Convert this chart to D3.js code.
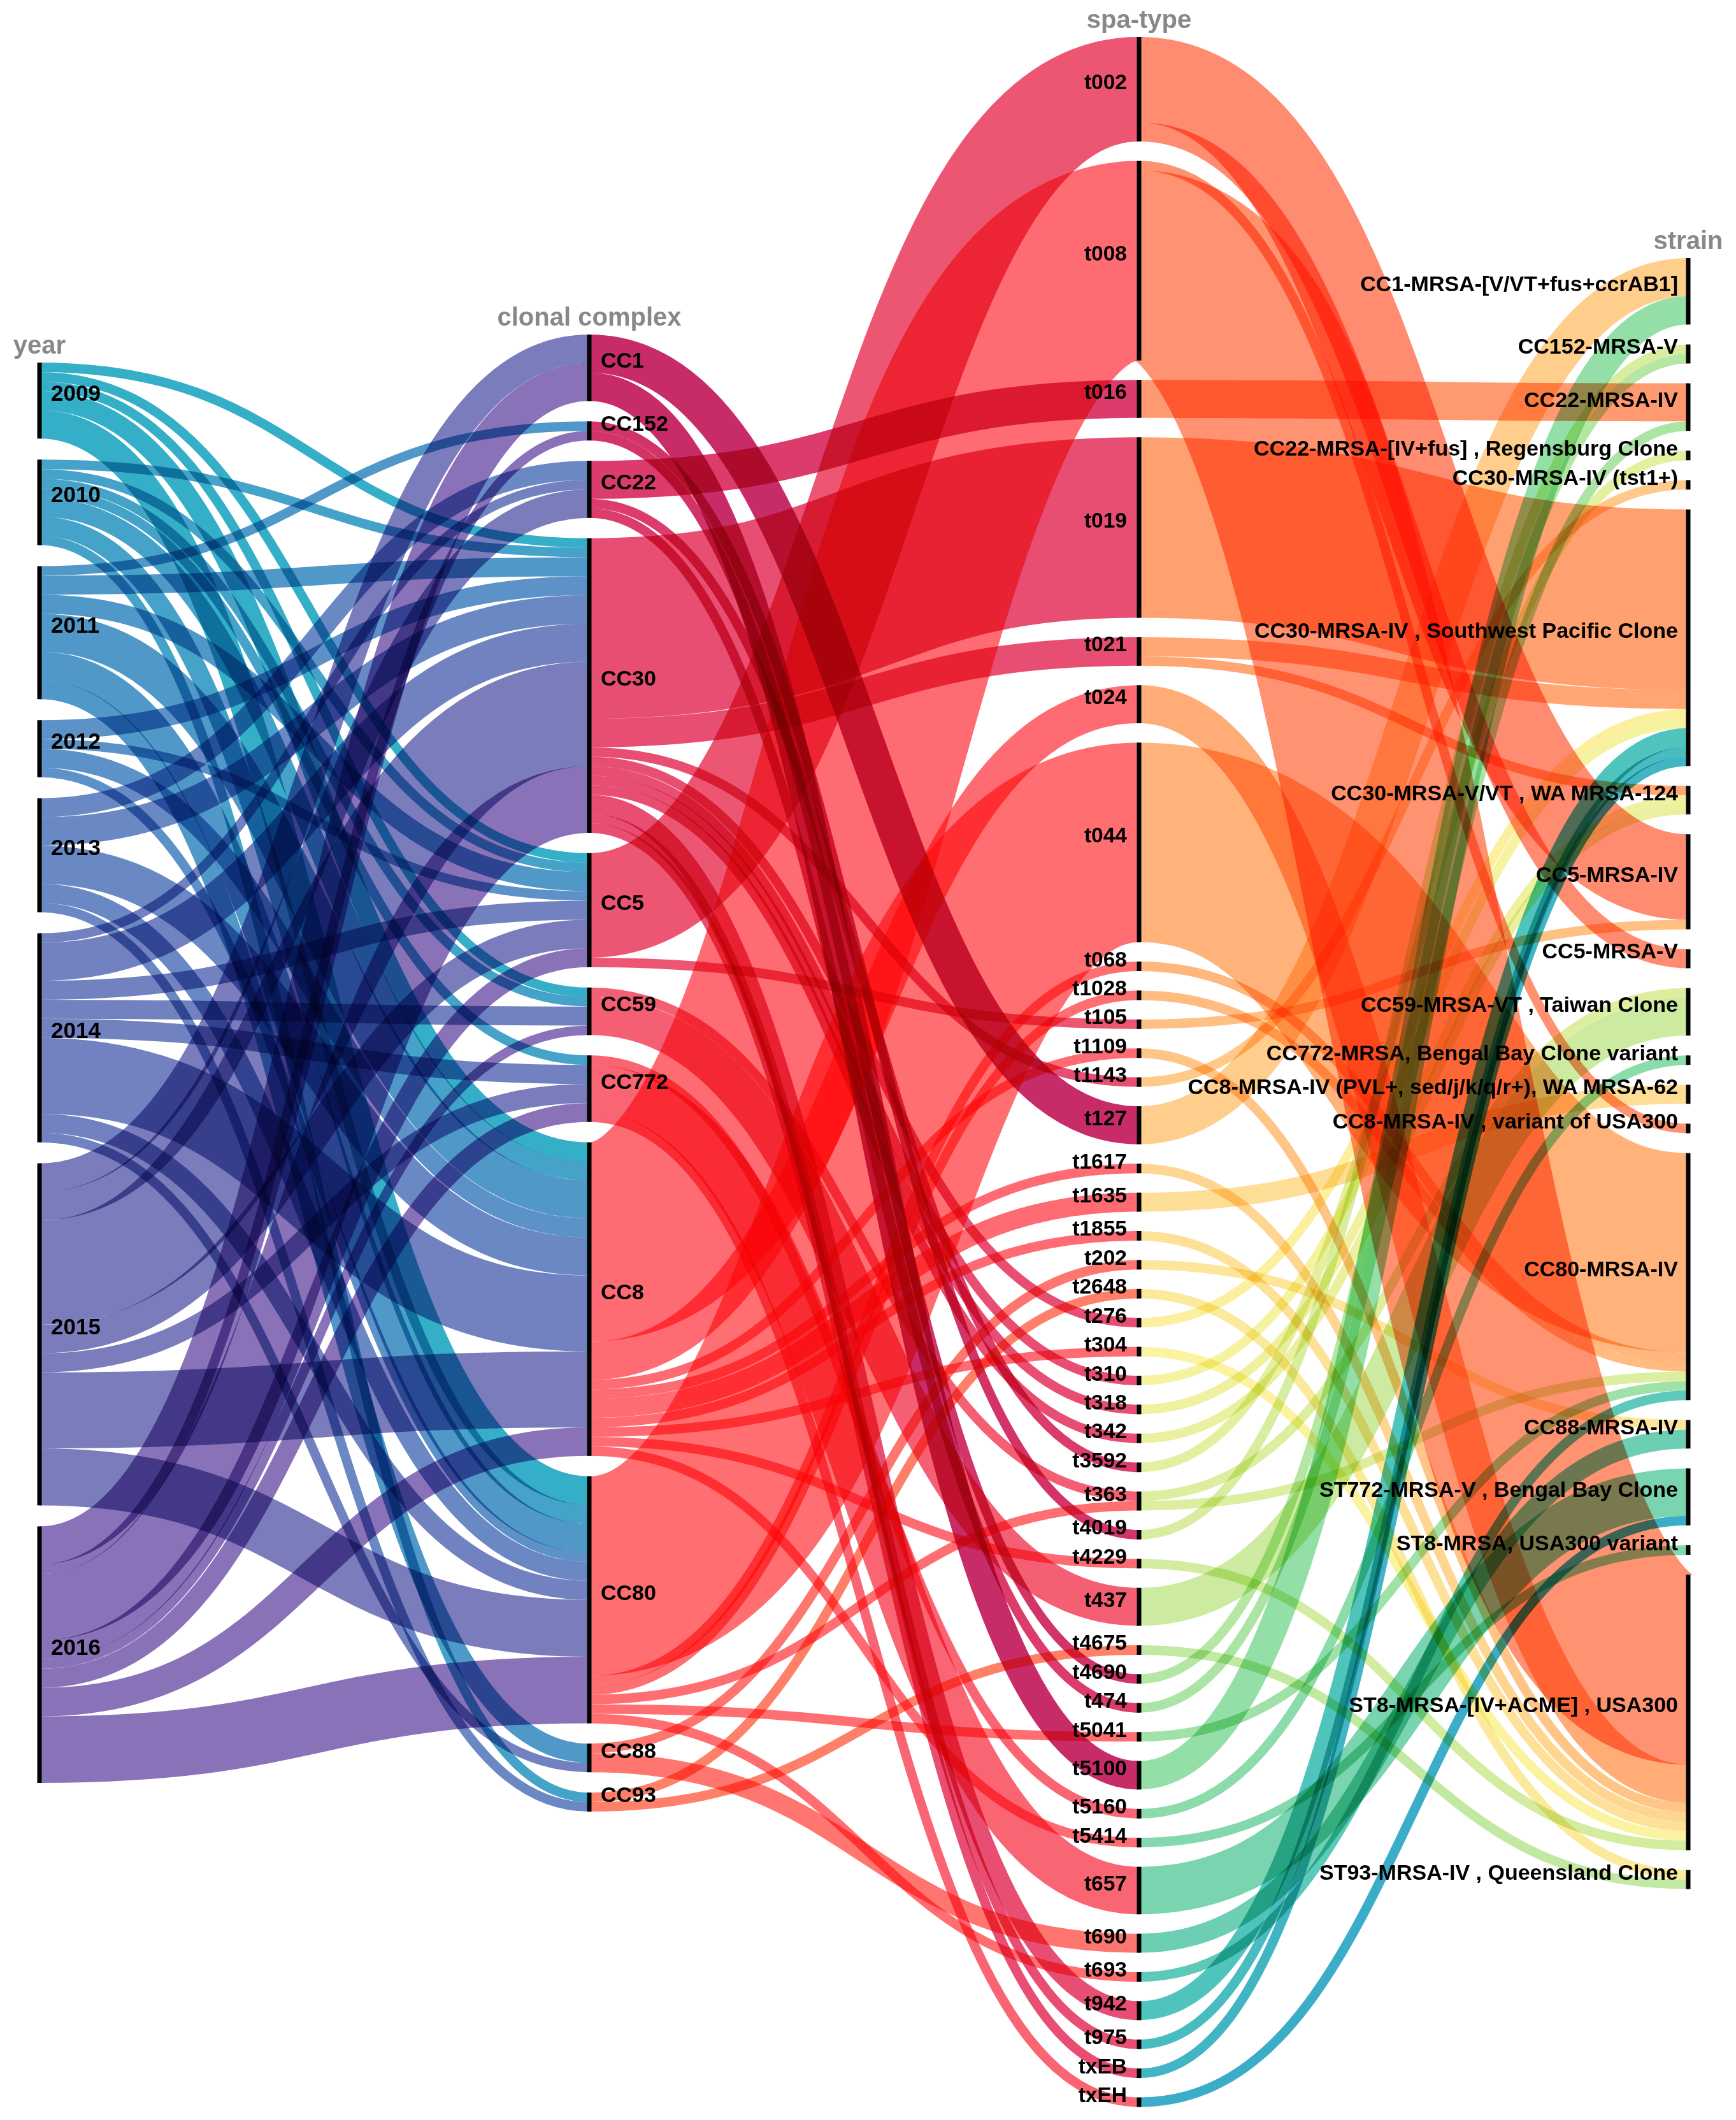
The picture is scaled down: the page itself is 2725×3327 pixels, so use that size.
<!DOCTYPE html>
<html><head><meta charset="utf-8">
<script src="https://cdn.jsdelivr.net/npm/d3@7/dist/d3.min.js"></script>
<style>html,body{margin:0;padding:0;background:#fff}svg{display:block;background:#fff}
.flow{mix-blend-mode:multiply;fill:none;stroke-linecap:butt}
text{font-family:"Liberation Sans",Arial,sans-serif;font-weight:700}
</style></head><body><div id="chart"></div>
<script>
const axisTitles=["year","clonal complex","spa-type","strain"];
const years=["2009","2010","2011","2012","2013","2014","2015","2016"];
const complexes=["CC1","CC152","CC22","CC30","CC5","CC59","CC772","CC8","CC80","CC88","CC93"];
const spaTypes=["t002","t008","t016","t019","t021","t024","t044","t068","t1028","t105","t1109","t1143","t127","t1617","t1635","t1855","t202","t2648","t276","t304","t310","t318","t342","t3592","t363","t4019","t4229","t437","t4675","t4690","t474","t5041","t5100","t5160","t5414","t657","t690","t693","t942","t975","txEB","txEH"];
const strains=["CC1-MRSA-[V/VT+fus+ccrAB1]","CC152-MRSA-V","CC22-MRSA-IV","CC22-MRSA-[IV+fus] , Regensburg Clone","CC30-MRSA-IV (tst1+)","CC30-MRSA-IV , Southwest Pacific Clone","CC30-MRSA-V/VT , WA MRSA-124","CC5-MRSA-IV","CC5-MRSA-V","CC59-MRSA-VT , Taiwan Clone","CC772-MRSA, Bengal Bay Clone variant","CC8-MRSA-IV (PVL+, sed/j/k/q/r+), WA MRSA-62","CC8-MRSA-IV , variant of USA300","CC80-MRSA-IV","CC88-MRSA-IV","ST772-MRSA-V , Bengal Bay Clone","ST8-MRSA, USA300 variant","ST8-MRSA-[IV+ACME] , USA300","ST93-MRSA-IV , Queensland Clone"];

const yearFlows=[
["2009","CC30",1],["2009","CC5",1],["2009","CC59",1],["2009","CC8",2],["2009","CC80",3],
["2010","CC30",1],["2010","CC5",1],["2010","CC59",1],["2010","CC772",1],["2010","CC8",2],["2010","CC80",2],["2010","CC93",1],
["2011","CC152",1],["2011","CC30",2],["2011","CC5",2],["2011","CC8",4],["2011","CC80",3],["2011","CC88",2],
["2012","CC30",2],["2012","CC5",1],["2012","CC8",2],["2012","CC80",1],
["2013","CC22",2],["2013","CC30",3],["2013","CC8",4],["2013","CC80",2],["2013","CC93",1],
["2014","CC22",1],["2014","CC30",4],["2014","CC5",2],["2014","CC59",2],["2014","CC772",2],["2014","CC8",8],["2014","CC80",2],["2014","CC88",1],
["2015","CC1",3],["2015","CC22",3],["2015","CC30",11],["2015","CC5",3],["2015","CC772",2],["2015","CC8",8],["2015","CC80",6],
["2016","CC1",4],["2016","CC152",1],["2016","CC30",7],["2016","CC5",2],["2016","CC59",1],["2016","CC772",2],["2016","CC8",3],["2016","CC80",7]];
const complexFlows=[
["CC1","t127",4],["CC1","t5100",3],
["CC152","t4019",1],["CC152","t4690",1],
["CC22","t016",4],["CC22","t3592",1],["CC22","t474",1],
["CC30","t019",19],["CC30","t021",3],["CC30","t1143",1],["CC30","t276",1],["CC30","t310",1],["CC30","t318",1],["CC30","t342",1],["CC30","t942",2],["CC30","t975",1],["CC30","txEB",1],
["CC5","t002",11],["CC5","t105",1],
["CC59","t363",1],["CC59","t437",4],
["CC772","t5160",1],["CC772","t657",5],["CC772","txEH",1],
["CC8","t008",21],["CC8","t024",4],["CC8","t1109",1],["CC8","t1617",1],["CC8","t1635",2],["CC8","t1855",1],["CC8","t304",1],["CC8","t4229",1],["CC8","t5414",1],
["CC80","t044",21],["CC80","t068",1],["CC80","t1028",1],["CC80","t363",1],["CC80","t5041",1],["CC80","t693",1],
["CC88","t202",1],["CC88","t690",2],
["CC93","t2648",1],["CC93","t4675",1]];
const spaFlows=[
["t002",7,9],["t002",8,2],["t008",12,1],["t008",17,20],["t016",2,4],["t019",5,19],["t021",5,2],["t021",6,1],["t024",17,4],["t044",13,21],["t068",13,1],["t1028",13,1],["t105",7,1],["t1109",17,1],["t1143",4,1],["t127",0,4],["t1617",17,1],["t1635",11,2],["t1855",17,1],["t202",14,1],["t2648",18,1],["t276",5,1],["t304",17,1],["t310",5,1],["t318",6,1],["t342",6,1],["t3592",3,1],["t363",9,1],["t363",13,1],["t4019",1,1],["t4229",17,1],["t437",9,4],["t4675",18,1],["t4690",1,1],["t474",2,1],["t5041",13,1],["t5100",0,3],["t5160",10,1],["t5414",16,1],["t657",15,5],["t690",14,2],["t693",13,1],["t942",5,2],["t975",5,1],["txEB",5,1],["txEH",15,1]
].map(f=>[f[0],strains[f[1]],f[2]]);

const yearColors=["#35AFC8","#45A2C8","#5098C8","#5C92C8","#6A88C4","#7282C0","#7B7CBB","#8A72B8"];
const complexColors=["#C82C68","#D23468","#DB3C6C","#E84E72","#EC5672","#F45F74","#FA6574","#FF6B72","#FF6E70","#FF7670","#FF8068"];
const spaColorStops=["#FF8B70","#FFA070","#FFB27A","#FFCE8C","#FEDD96","#FBF3A0","#CDEBA0","#94DFA8","#7AD4B0","#4FC4BC","#3BADC8"];
const spaStopAt=[0,3,6,12,14,19,27,32,35,38,41];

const W=2725,H=3327;
const unit=d3.scaleLinear().domain([0,134]).range([0,1998]);
const xOf=d3.scaleOrdinal().domain(axisTitles).range([62,925,1788,2650]);
const tops=d3.scaleOrdinal().domain(axisTitles).range([569,525,58,405]);
const gaps=d3.scaleOrdinal().domain(axisTitles).range([33,32,30.5,31.2]);
const spaColor=d3.scaleLinear().domain(spaStopAt).range(spaColorStops).interpolate(d3.interpolateRgb);

const levels=[years,complexes,spaTypes,strains];
const stages=[yearFlows,complexFlows,spaFlows];
const fills=[
  d3.scaleOrdinal().domain(years).range(yearColors),
  d3.scaleOrdinal().domain(complexes).range(complexColors),
  n=>spaColor(spaTypes.indexOf(n))
];

const nodes=levels.map((names,l)=>{
  const out=stages[l]||[],inn=stages[l-1]||[];
  let y=tops(axisTitles[l]);
  const m=new Map();
  names.forEach(n=>{
    const v=d3.sum(out.length?out.filter(f=>f[0]===n):inn.filter(f=>f[1]===n),f=>f[2]);
    m.set(n,{name:n,value:v,y0:y,y1:y+unit(v),outY:y,inY:y});
    y+=unit(v)+gaps(axisTitles[l]);
  });
  return m;
});

const svg=d3.select("#chart").append("svg").attr("width",W).attr("height",H);
const link=d3.linkHorizontal().source(d=>d.from).target(d=>d.to);
const flowsG=svg.append("g").style("isolation","isolate");
stages.forEach((flows,l)=>{
  const L=levels[l],R=levels[l+1],x0=xOf(axisTitles[l]),x1=xOf(axisTitles[l+1]);
  const sorted=flows.slice().sort((a,b)=>d3.ascending(L.indexOf(a[0]),L.indexOf(b[0]))||d3.ascending(R.indexOf(a[1]),R.indexOf(b[1])));
  const marks=sorted.map(f=>{
    const s=nodes[l].get(f[0]),t=nodes[l+1].get(f[1]),h=unit(f[2]);
    const m={s:f[0],h:h,from:[x0,s.outY+h/2],to:[x1,t.inY+h/2]};
    s.outY+=h;t.inY+=h;
    return m;
  });
  flowsG.selectAll(null).data(marks).join("path").attr("class","flow")
    .attr("d",link).attr("stroke-width",d=>d.h)
    .attr("stroke",d=>fills[l](d.s));
});

levels.forEach((names,l)=>{
  const title=axisTitles[l],x=xOf(title),g=svg.append("g");
  const data=names.map(n=>nodes[l].get(n));
  g.selectAll("rect").data(data).join("rect")
    .attr("x",x-3.5).attr("width",7).attr("y",d=>d.y0).attr("height",d=>d.y1-d.y0).attr("fill","#000");
  const anchorEnd=l>=2;
  g.selectAll("text.lab").data(data).join("text").attr("class","lab")
    .attr("x",anchorEnd?(x-(l===2?19:16)):(x+18))
    .attr("y",d=>(d.y0+d.y1)/2)
    .attr("text-anchor",anchorEnd?"end":"start")
    .attr("font-size",[35,34,33.5,34][l]).attr("fill","#000").text(d=>d.name);
  g.append("text").attr("x",x).attr("y",tops(title)-14).attr("text-anchor","middle")
    .attr("font-size",40).attr("fill","#888").text(title);
});
</script></body></html>
